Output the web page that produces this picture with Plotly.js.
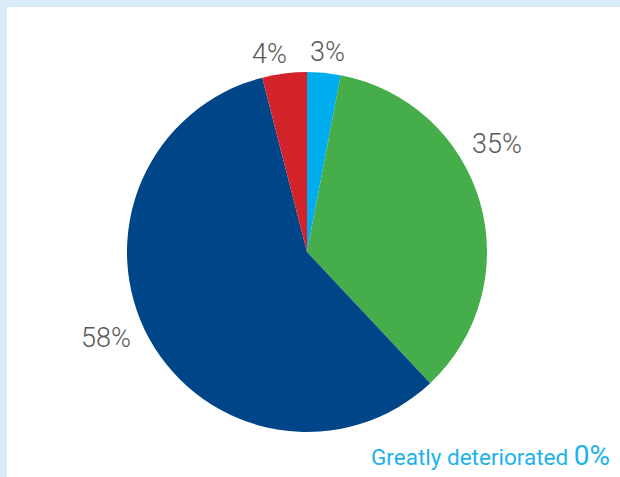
<!DOCTYPE html>
<html>
<head>
<meta charset="utf-8">
<script src="https://cdn.plot.ly/plotly-3.0.1.min.js"></script>
<style>
  html, body { margin: 0; padding: 0; background: #daecf7; width: 620px; height: 477px; overflow: hidden; }
  #chart { position: absolute; left: 7px; top: 7px; width: 613px; height: 470px; background: #ffffff; }
</style>
</head>
<body>
<div id="chart"></div>
<script>
const labels = ['Greatly improved', 'Improved', 'Stayed the same', 'Deteriorated'];
const values = [3, 35, 58, 4];
const colors = ['#00aeef', '#45ad4a', '#004587', '#d2232a'];
const zeroLabel = 'Greatly deteriorated';
const zeroValue = 0;

// label placement (paper coords) for each slice's percentage label
const labelPos = [[0.557, 1.055], [1.028, 0.800], [-0.057, 0.261], [0.396, 1.051]];

const trace = {
  type: 'pie',
  labels: labels,
  values: values,
  sort: false,
  direction: 'clockwise',
  rotation: 0,
  marker: { colors: colors, line: { width: 0 } },
  textinfo: 'none',
  hoverinfo: 'none',
  showlegend: false
};

const total = values.reduce((a, b) => a + b, 0);
const labelFont = { family: 'Roboto, "Open Sans", sans-serif', size: 27, color: '#595959', weight: 300 };
const annotations = values.map((v, i) => ({
  xref: 'paper', yref: 'paper',
  x: labelPos[i][0], y: labelPos[i][1],
  xanchor: 'center', yanchor: 'middle',
  showarrow: false,
  text: Math.round(100 * v / total) + '%',
  font: labelFont
}));
annotations.push({
  xref: 'paper', yref: 'paper',
  x: 1.347, y: -0.118,
  xanchor: 'right', yanchor: 'bottom',
  showarrow: false,
  text: zeroLabel + ' <span style="font-size:28px">' + zeroValue + '%</span>',
  font: { family: 'Roboto, "Open Sans", sans-serif', size: 22.5, color: '#1cb3ec', weight: 400 }
});

const layout = {
  width: 613,
  height: 470,
  margin: { l: 120, r: 133, t: 65, b: 45 },
  paper_bgcolor: '#ffffff',
  plot_bgcolor: '#ffffff',
  showlegend: false,
  annotations: annotations
};

Plotly.newPlot('chart', [trace], layout, { displayModeBar: false, staticPlot: true });
</script>
</body>
</html>
